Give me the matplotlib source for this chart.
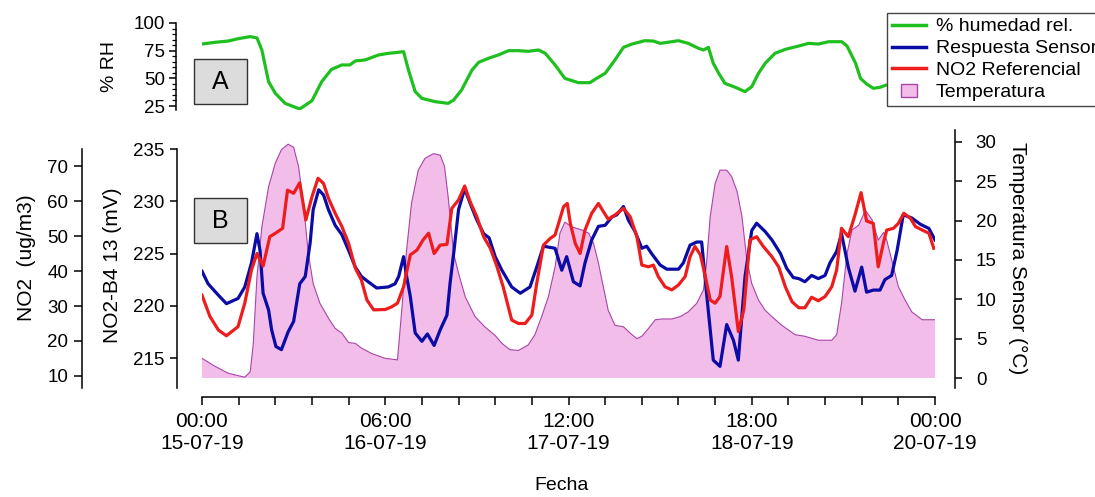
import matplotlib
matplotlib.use('Agg')
import matplotlib.pyplot as plt
import matplotlib.patches as mpatches
from matplotlib.lines import Line2D
from matplotlib.legend_handler import HandlerPatch
from matplotlib.ticker import MultipleLocator

plt.rcParams['font.family'] = ['Liberation Sans', 'DejaVu Sans']

# ---- data (hours since 15-07-19 00:00) ----
rh_hours = [0, 2.1, 4.3, 5.9, 7.9, 9.0, 9.8, 10.9, 12.0, 13.6, 16.0, 18.0, 19.6, 21.2, 22.9,
            24.2, 25.1, 26.7, 28.9, 30.5, 31.6, 33.0, 33.8, 34.9, 36.0, 38.2, 40.3, 41.2, 42.5,
            44.2, 45.3, 46.9, 48.5, 50.2, 51.8, 53.4, 55.1, 56.2, 57.8, 59.4, 61.6, 63.5, 64.6,
            66.0, 67.6, 69.0, 70.4, 72.5, 73.9, 75.0, 75.8, 78.0, 79.6, 81.3, 82.1, 82.9, 83.7,
            84.6, 85.6, 87.3, 88.9, 90.0, 91.1, 92.2, 93.8, 95.5, 97.7, 99.3, 100.9, 102.6,
            104.7, 105.6, 107.0, 107.8, 108.8, 109.9, 111.0, 111.9]
rh_values = [81.0, 82.5, 83.7, 85.8, 87.7, 86.5, 75.6, 47.0, 36.5, 27.4, 22.3, 29.8, 47.0, 58.1,
             62.1, 62.1, 65.7, 66.6, 71.1, 72.6, 73.2, 74.1, 57.5, 38.0, 31.9, 28.9, 27.4, 30.4,
             39.5, 57.5, 64.5, 68.1, 71.1, 75.0, 75.0, 74.4, 75.6, 72.6, 62.1, 50.0, 46.1, 46.1,
             50.0, 54.5, 66.6, 78.0, 81.0, 84.0, 83.7, 81.6, 82.2, 84.0, 81.6, 77.1, 75.6, 78.0,
             63.6, 54.5, 45.5, 41.9, 38.0, 42.5, 54.5, 63.6, 72.6, 76.2, 79.2, 81.6, 81.0, 83.1,
             83.1, 79.2, 63.6, 50.0, 44.9, 41.0, 41.9, 43.7]

sensor_hours = [0, 1.0, 2.7, 4.0, 5.9, 7.0, 8.1, 9.0, 9.5, 10.0, 10.9, 11.4, 12.1, 13.0, 14.1,
                15.0, 16.0, 16.9, 17.7, 18.2, 19.1, 19.9, 20.7, 21.8, 22.9, 24.0, 25.1, 26.1,
                27.2, 28.6, 30.5, 31.6, 32.2, 33.0, 33.5, 34.1, 34.9, 36.0, 36.9, 38.0, 39.0,
                40.1, 40.6, 41.2, 42.0, 43.0, 43.9, 45.0, 46.1, 47.0, 48.0, 49.1, 50.7, 52.1,
                53.7, 54.8, 55.9, 57.8, 58.9, 59.7, 60.8, 61.9, 62.7, 63.8, 64.9, 66.0, 67.1,
                67.9, 69.0, 69.8, 70.9, 72.0, 72.8, 73.6, 75.0, 76.1, 78.0, 78.8, 79.9, 81.0,
                81.8, 82.6, 83.7, 84.8, 85.9, 87.0, 87.8, 88.9, 90.0, 90.8, 92.2, 93.3, 94.7,
                95.7, 96.8, 97.7, 98.7, 99.8, 100.9, 102.0, 102.8, 103.9, 104.7, 105.8, 106.9,
                108.0, 108.8, 109.9, 111.0, 111.8, 112.9, 113.8, 114.8, 116.2, 117.6, 119.0, 120.0]
sensor_mv = [223.3, 222.1, 221.0, 220.2, 220.7, 221.8, 224.1, 226.9, 225.3, 221.2, 219.6, 217.7,
             216.1, 215.8, 217.5, 218.5, 222.1, 222.8, 226.0, 229.2, 231.1, 230.6, 229.2, 227.7,
             226.8, 225.3, 223.7, 222.8, 222.3, 221.7, 221.8, 222.1, 222.8, 224.7, 222.8, 220.9,
             217.4, 216.6, 217.3, 216.2, 217.7, 219.1, 222.1, 225.0, 229.2, 231.2, 229.8, 228.2,
             226.9, 226.5, 224.7, 223.4, 221.8, 221.2, 221.8, 223.7, 225.7, 225.5, 223.4, 224.7,
             222.3, 221.9, 224.1, 226.3, 227.6, 227.7, 228.5, 228.7, 229.5, 228.2, 227.1, 225.5,
             225.7, 225.0, 223.9, 223.5, 223.5, 224.1, 225.8, 226.1, 226.1, 221.2, 214.8, 214.2,
             218.2, 216.7, 214.8, 222.8, 227.2, 227.9, 227.1, 226.3, 225.0, 223.6, 222.7, 222.6,
             222.3, 222.9, 222.6, 222.9, 224.1, 225.2, 226.9, 223.7, 221.4, 223.7, 221.3, 221.5,
             221.5, 222.5, 222.9, 225.3, 228.7, 228.4, 227.8, 227.4, 226.3]

no2_hours = [0, 1.3, 2.7, 4.0, 5.9, 7.0, 8.1, 9.0, 10.0, 11.1, 12.2, 13.2, 14.0, 15.0, 16.0, 17.0,
             18.0, 19.0, 19.9, 20.7, 21.8, 22.9, 24.0, 25.1, 26.1, 27.0, 28.1, 30.0, 31.1, 32.0,
             33.0, 34.1, 35.2, 36.2, 37.1, 38.0, 39.0, 40.1, 40.9, 42.0, 43.0, 43.9, 45.0, 46.1,
             47.2, 48.3, 49.3, 50.7, 51.8, 52.9, 54.0, 54.8, 55.9, 57.0, 57.8, 59.2, 59.8, 60.3,
             61.1, 61.9, 62.7, 63.8, 64.9, 65.7, 66.5, 67.6, 69.0, 70.1, 71.2, 72.0, 73.1, 73.9,
             74.7, 75.8, 76.9, 78.0, 79.1, 79.9, 80.7, 81.6, 82.4, 83.2, 84.0, 84.8, 85.9, 86.7,
             87.8, 88.7, 89.7, 90.8, 91.9, 93.3, 94.4, 95.5, 96.6, 97.7, 98.7, 99.8, 100.9, 102.0,
             103.1, 103.9, 104.7, 105.8, 106.9, 107.9, 108.8, 109.9, 110.7, 111.6, 112.1, 113.2,
             114.0, 114.9, 116.0, 116.8, 117.9, 119.0, 119.8]
no2_values = [33.1, 27.0, 23.1, 21.5, 24.1, 30.8, 40.3, 45.0, 41.4, 49.8, 51.0, 52.2, 63.1, 62.2,
              65.2, 54.6, 61.2, 66.5, 65.0, 60.8, 56.5, 52.7, 47.9, 40.8, 37.4, 31.7, 28.9, 29.0,
              29.8, 30.8, 35.5, 44.6, 46.0, 48.9, 50.8, 45.0, 47.4, 47.6, 57.9, 60.3, 64.3, 59.8,
              55.5, 49.8, 46.5, 41.2, 35.5, 26.0, 25.0, 25.0, 27.4, 36.5, 47.4, 49.3, 50.3, 58.4,
              59.3, 53.6, 47.9, 45.0, 51.7, 56.5, 59.3, 57.0, 54.8, 56.0, 57.9, 55.5, 49.8, 41.7,
              41.2, 41.7, 38.4, 35.5, 34.6, 36.0, 38.4, 44.1, 47.0, 44.6, 38.4, 31.7, 30.8, 32.7,
              47.0, 38.4, 22.7, 28.9, 48.9, 49.8, 47.0, 44.1, 41.2, 35.5, 31.2, 29.5, 29.5, 32.5,
              31.5, 32.7, 35.5, 40.3, 52.2, 49.8, 56.0, 62.4, 54.3, 53.6, 41.2, 48.4, 51.7, 52.2,
              53.6, 56.5, 55.0, 52.7, 51.7, 50.8, 46.5]

temp_hours = [0, 2.1, 4.3, 7.0, 7.9, 8.4, 9.0, 9.8, 10.9, 12.0, 13.0, 14.1, 15.0, 15.8, 16.6,
              17.4, 18.2, 19.3, 20.7, 21.8, 22.9, 24.0, 25.1, 26.1, 27.8, 30.0, 32.0, 32.7, 33.5,
              34.3, 35.4, 36.5, 37.9, 39.0, 39.7, 40.3, 41.2, 42.0, 43.1, 44.7, 46.3, 48.0, 49.1,
              50.4, 51.8, 53.4, 54.5, 55.6, 56.7, 57.8, 58.6, 59.4, 60.5, 62.2, 63.3, 64.1, 64.9,
              65.7, 66.5, 67.6, 69.0, 70.1, 71.2, 72.0, 73.1, 74.2, 75.3, 76.9, 78.3, 79.6, 81.0,
              82.1, 82.6, 83.2, 84.0, 84.8, 85.9, 86.7, 87.6, 88.4, 89.2, 90.0, 91.1, 92.2, 93.3,
              94.9, 97.1, 98.7, 100.9, 103.1, 103.9, 104.7, 105.6, 106.4, 107.5, 108.6, 109.7,
              110.7, 111.6, 112.1, 113.2, 114.0, 115.1, 116.2, 117.9, 120.0]
temp_values = [2.5, 1.5, 0.6, 0.1, 0.8, 4.4, 12.9, 19.2, 24.3, 27.3, 29.0, 29.7, 29.3, 26.9, 22.2,
               15.8, 12.0, 9.5, 7.6, 6.3, 5.7, 4.5, 4.4, 3.8, 3.1, 2.5, 2.3, 8.6, 16.3, 22.2, 26.4,
               27.9, 28.5, 28.3, 26.9, 23.0, 15.8, 13.3, 10.3, 7.8, 6.5, 5.4, 4.4, 3.6, 3.5, 4.2,
               5.5, 7.8, 10.3, 14.1, 18.4, 19.8, 19.2, 18.8, 18.4, 17.1, 14.6, 11.6, 8.6, 6.7, 6.5,
               5.7, 5.0, 5.3, 6.3, 7.4, 7.5, 7.5, 7.8, 8.4, 9.5, 11.2, 14.6, 20.5, 24.7, 26.4, 26.4,
               25.6, 23.7, 20.5, 15.0, 12.0, 9.9, 8.6, 7.8, 6.7, 5.5, 5.3, 4.8, 4.8, 5.5, 9.5, 15.8,
               18.8, 19.4, 21.3, 20.1, 17.5, 18.5, 17.5, 14.1, 11.6, 9.9, 8.4, 7.4, 7.4]

x_ticks = [0, 30, 60, 90, 120]
x_labels = ['00:00\n15-07-19', '06:00\n16-07-19', '12:00\n17-07-19',
            '18:00\n18-07-19', '00:00\n20-07-19']
legend_labels = ['% humedad rel.', 'Respuesta Sensor', 'NO2 Referencial', 'Temperatura']

GREEN = '#1fbf1f'
BLUE = '#0b0ba5'
RED = '#ee1d1d'
PINK = '#f2bde9'
PURPLE = '#a845a8'

W, H = 1095, 497
def fx(px):
    return px / W
def fy(py):
    return 1 - py / H
PT = 0.72  # pixels -> points at dpi 100

fig = plt.figure(figsize=(10.95, 4.97), dpi=100)

# ---- panel A: humidity ----
ax_rh = fig.add_axes([fx(202), fy(110), (935 - 202) / W, (110 - 20) / H])
ax_rh.plot(rh_hours, rh_values, color=GREEN, lw=2.3)
ax_rh.set_xlim(0, 120)
ax_rh.set_ylim(21.4, 102.7)
for s in ['top', 'right', 'bottom']:
    ax_rh.spines[s].set_visible(False)
ax_rh.spines['left'].set_position(('outward', 26 * PT))
ax_rh.spines['left'].set_bounds(21.4, 100)
ax_rh.spines['left'].set_linewidth(1.1)
ax_rh.set_xticks([])
ax_rh.yaxis.set_major_locator(MultipleLocator(25))
ax_rh.yaxis.set_minor_locator(MultipleLocator(5))
ax_rh.tick_params(axis='y', which='major', length=5, width=1.1, labelsize=13.5, pad=3)
ax_rh.tick_params(axis='y', which='minor', length=3, width=0.9)
ax_rh.patch.set_visible(False)

# ---- panel B ----
ax_t = fig.add_axes([fx(202), fy(388), (935 - 202) / W, (388 - 130) / H])
ax_mv = ax_t.twinx()
ax_no2 = ax_t.twinx()

ax_t.fill_between(temp_hours, 0, temp_values, facecolor=PINK, lw=0)
ax_t.plot(temp_hours, temp_values, color=PURPLE, lw=0.8)
ax_t.set_xlim(0, 120)
ax_t.set_ylim(-1.27, 31.5)
ax_t.yaxis.tick_right()
ax_t.set_yticks([0, 5, 10, 15, 20, 25, 30])
for s in ['top', 'left']:
    ax_t.spines[s].set_visible(False)
ax_t.spines['right'].set_position(('outward', 20 * PT))
ax_t.spines['bottom'].set_position(('outward', 9 * PT))
ax_t.spines['right'].set_linewidth(1.1)
ax_t.spines['bottom'].set_linewidth(1.1)
ax_t.set_xticks(x_ticks)
ax_t.set_xticklabels(x_labels)
ax_t.xaxis.set_minor_locator(MultipleLocator(6))
ax_t.tick_params(axis='x', which='both', length=6, width=1.1, labelsize=15, pad=5)
ax_t.tick_params(axis='y', length=5, width=1.1, labelsize=13.5, pad=10)

ax_mv.plot(sensor_hours, sensor_mv, color=BLUE, lw=2.3)
ax_mv.set_ylim(212.13, 236.82)
ax_mv.yaxis.tick_left()
ax_mv.set_yticks([215, 220, 225, 230, 235])
for s in ['top', 'right', 'bottom']:
    ax_mv.spines[s].set_visible(False)
ax_mv.spines['left'].set_visible(True)
ax_mv.spines['left'].set_position(('outward', 25 * PT))
ax_mv.spines['left'].set_bounds(212.13, 235)
ax_mv.spines['left'].set_linewidth(1.1)
ax_mv.tick_params(axis='y', length=5, width=1.1, labelsize=13.5, pad=4)

ax_no2.plot(no2_hours, no2_values, color=RED, lw=2.3)
ax_no2.set_ylim(6.57, 80.29)
ax_no2.yaxis.tick_left()
ax_no2.set_yticks([10, 20, 30, 40, 50, 60, 70])
for s in ['top', 'right', 'bottom']:
    ax_no2.spines[s].set_visible(False)
ax_no2.spines['left'].set_visible(True)
ax_no2.spines['left'].set_position(('outward', 120 * PT))
ax_no2.spines['left'].set_bounds(6.57, 74.86)
ax_no2.spines['left'].set_linewidth(1.1)
ax_no2.tick_params(axis='y', length=6, width=1.1, labelsize=13.5, pad=4)

# ---- axis titles ----
fig.text(fx(110), fy(66), '% RH', rotation=90, ha='center', va='center', fontsize=14)
fig.text(fx(112), fy(265), 'NO2-B4 13 (mV)', rotation=90, ha='center', va='center', fontsize=15)
fig.text(fx(27), fy(258), 'NO2  (ug/m3)', rotation=90, ha='center', va='center', fontsize=15)
fig.text(fx(1018), fy(258), 'Temperatura Sensor (°C)', rotation=270, ha='center', va='center',
         fontsize=15)
fig.text(fx(562), fy(485), 'Fecha', ha='center', va='center', fontsize=14)

# ---- panel tags ----
for tag, top in [('A', 59), ('B', 198)]:
    fig.add_artist(mpatches.Rectangle((fx(194), fy(top + 45)), 53 / W, 45 / H,
                                      transform=fig.transFigure, facecolor='#dcdcdc',
                                      edgecolor='#333333', lw=1))
    fig.text(fx(220.5), fy(top + 23), tag, ha='center', va='center', fontsize=18)

# ---- legend ----
def small_box(legend, orig_handle, xdescent, ydescent, width, height, fontsize):
    return mpatches.Rectangle((-xdescent + 0.26 * width, -ydescent), 0.48 * width, height)

handles = [Line2D([], [], color=GREEN, lw=2.5), Line2D([], [], color=BLUE, lw=2.5),
           Line2D([], [], color=RED, lw=2.5),
           mpatches.Patch(facecolor=PINK, edgecolor=PURPLE, lw=1)]
leg = fig.legend(handles, legend_labels, loc='upper left', bbox_to_anchor=(fx(887), fy(13)),
                 fontsize=14, handlelength=1.75, handletextpad=0.5, labelspacing=0.22,
                 borderpad=0.25, borderaxespad=0, fancybox=False, edgecolor='#444444',
                 framealpha=1,
                 handler_map={mpatches.Patch: HandlerPatch(patch_func=small_box)})
leg.get_frame().set_linewidth(1.0)

fig.savefig('out.png', dpi=100)
